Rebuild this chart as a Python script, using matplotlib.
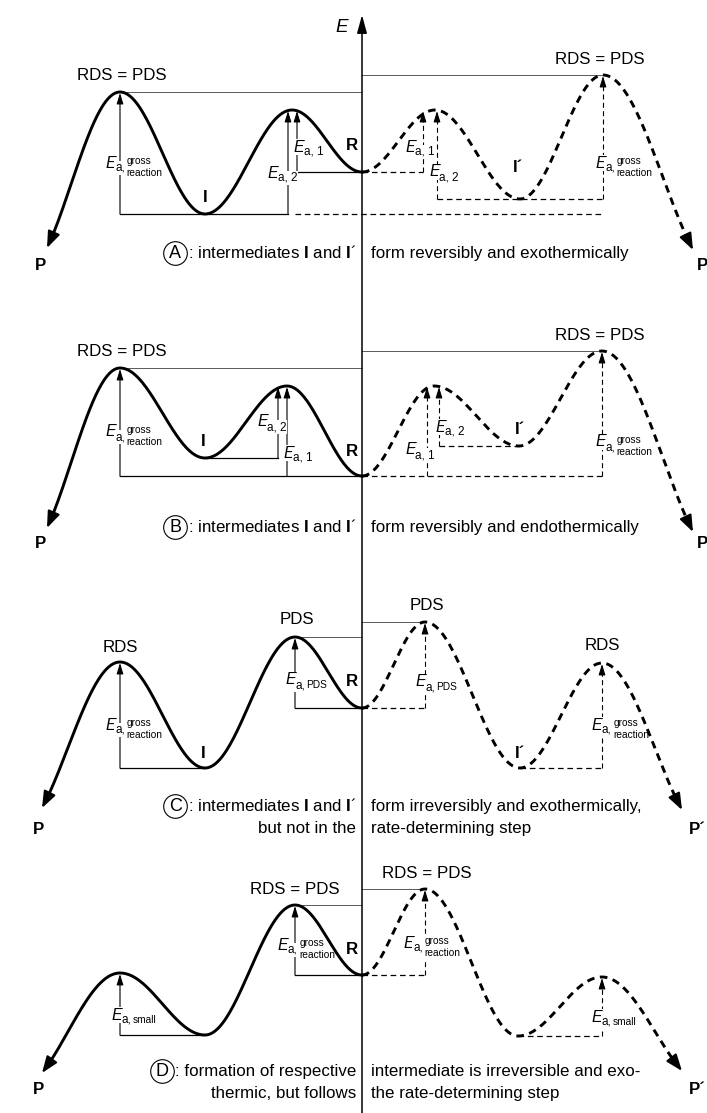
import numpy as np
import matplotlib.pyplot as plt
from matplotlib.patches import FancyArrowPatch

plt.rcParams['font.family'] = ['Liberation Sans', 'DejaVu Sans']
plt.rcParams['mathtext.fontset'] = 'custom'
plt.rcParams['mathtext.rm'] = 'Liberation Sans'
plt.rcParams['mathtext.it'] = 'Liberation Sans:italic'
plt.rcParams['mathtext.bf'] = 'Liberation Sans:bold'

AXIS_X = 362
FS = 12.2

# energy profiles (pixel units, y downwards)
# order: R, first TS, intermediate, second TS, product end
a_left_x = [362, 292, 205, 120, 47]
a_left_y = [172, 110, 214, 92, 248]
a_right_x = [362, 435, 520, 603, 693]
a_right_y = [172, 110, 199, 75, 250]

b_left_x = [362, 287, 205, 120, 47]
b_left_y = [476, 386, 458, 368, 528]
b_right_x = [362, 434, 519, 602, 693]
b_right_y = [476, 386, 446, 351, 532]

c_left_x = [362, 295, 205, 120, 42]
c_left_y = [708, 637, 768, 662, 808]
c_right_x = [362, 425, 520, 602, 682]
c_right_y = [708, 622, 768, 663, 810]

d_left_x = [362, 295, 205, 120, 42]
d_left_y = [975, 905, 1035, 973, 1073]
d_right_x = [362, 425, 518, 602, 682]
d_right_y = [975, 889, 1036, 977, 1071]

captions_left = {
    'A': [r': intermediates $\mathbf{I}$ and $\mathbf{I}$´'],
    'B': [r': intermediates $\mathbf{I}$ and $\mathbf{I}$´'],
    'C': [r': intermediates $\mathbf{I}$ and $\mathbf{I}$´', 'but not in the'],
    'D': [': formation of respective', 'thermic, but follows'],
}
captions_right = {
    'A': ['form reversibly and exothermically'],
    'B': ['form reversibly and endothermically'],
    'C': ['form irreversibly and exothermically,', 'rate-determining step'],
    'D': ['intermediate is irreversible and exo-', 'the rate-determining step'],
}

fig = plt.figure(figsize=(7.07, 11.13), dpi=100)
ax = fig.add_axes([0, 0, 1, 1])
ax.set_xlim(0, 707)
ax.set_ylim(1113, 0)
ax.axis('off')


def profile(xs, ys, n=80):
    px, py = [], []
    for i in range(len(xs) - 1):
        t = np.linspace(0, 1, n)
        if i < len(xs) - 2:
            s = (1 - np.cos(np.pi * t)) / 2
        else:
            k = 0.75
            s = (1 - np.cos(np.pi * k * t)) / (1 - np.cos(np.pi * k))
        px.append(xs[i] + (xs[i + 1] - xs[i]) * t)
        py.append(ys[i] + (ys[i + 1] - ys[i]) * s)
    return np.concatenate(px), np.concatenate(py)


def curve(xs, ys, dashed=False):
    px, py = profile(xs, ys)
    d = np.hypot(px - px[-1], py - py[-1])
    j = np.where(d > 12)[0][-1]
    ls = (0, (2.6, 1.9)) if dashed else '-'
    ax.plot(px[:j + 1], py[:j + 1], color='k', lw=2.1, ls=ls, zorder=4)
    ax.add_patch(FancyArrowPatch((px[j], py[j]), (px[-1], py[-1]),
                                 arrowstyle='-|>,head_length=1.0,head_width=0.38',
                                 mutation_scale=10, lw=1.5, color='k',
                                 shrinkA=0, shrinkB=0, zorder=4))


def varrow(x, y0, y1, dashed=False):
    style = '-|>,head_length=0.65,head_width=0.2'
    if dashed:
        ax.plot([x, x], [y0, y1 + 7], color='k', lw=0.8, ls=(0, (4.5, 3)), zorder=2)
        ax.add_patch(FancyArrowPatch((x, y1 + 10), (x, y1 + 1), arrowstyle=style,
                                     mutation_scale=10, lw=0.8, color='k',
                                     shrinkA=0, shrinkB=0, zorder=2))
    else:
        ax.add_patch(FancyArrowPatch((x, y0), (x, y1 + 1), arrowstyle=style,
                                     mutation_scale=10, lw=0.8, color='k',
                                     shrinkA=0, shrinkB=0, zorder=2))


def hline(x0, x1, y, dashed=False):
    ls = (0, (4.5, 3)) if dashed else '-'
    ax.plot([x0, x1], [y, y], color='k', lw=0.9, ls=ls, zorder=2)


def thin(x0, x1, y):
    ax.plot([x0, x1], [y, y], color='0.35', lw=0.7, zorder=1)


def ea(x, y, sub):
    box = dict(fc='white', ec='none', pad=0.4)
    ax.text(x, y, 'E', fontsize=11.5, style='italic', ha='left', va='center',
            bbox=box, zorder=3)
    if sub == 'gross':
        ax.text(x + 10, y + 5, 'a,', fontsize=8.5, ha='left', va='center', bbox=box, zorder=3)
        ax.text(x + 22, y - 2, 'gross', fontsize=7.3, ha='left', va='center', bbox=box, zorder=3)
        ax.text(x + 21, y + 10, 'reaction', fontsize=7.3, ha='left', va='center', bbox=box, zorder=3)
    elif sub in ('1', '2'):
        ax.text(x + 10, y + 5, 'a, ' + sub, fontsize=8.5, ha='left', va='center', bbox=box, zorder=3)
    else:
        ax.text(x + 10, y + 5, 'a,', fontsize=8.5, ha='left', va='center', bbox=box, zorder=3)
        ax.text(x + 21, y + 5, sub, fontsize=7.3, ha='left', va='center', bbox=box, zorder=3)


def label(x, y, s):
    ax.text(x, y, s, fontsize=FS, ha='center', va='center', zorder=5)


def bold(x, y, s):
    ax.text(x, y, s, fontsize=FS, fontweight='bold', ha='center', va='center', zorder=5)


def caption(y, letter):
    renderer = fig.canvas.get_renderer()
    first = None
    for k, (lt, rt) in enumerate(zip(captions_left[letter], captions_right[letter])):
        yy = y + 22 * k + 5
        t = ax.text(356, yy, lt, fontsize=FS, ha='right', va='baseline')
        ax.text(371, yy, rt, fontsize=FS, ha='left', va='baseline')
        if first is None:
            first = t
    bb = first.get_window_extent(renderer).transformed(ax.transData.inverted())
    cx = min(bb.x0, bb.x1) - 12.5
    ax.plot(cx, y, 'o', ms=17, mfc='none', mec='k', mew=0.8)
    ax.text(cx, y + 0.5, letter, fontsize=13, ha='center', va='center')


# energy axis
ax.add_patch(FancyArrowPatch((AXIS_X, 1113), (AXIS_X, 15),
                             arrowstyle='-|>,head_length=1.1,head_width=0.3',
                             mutation_scale=10, lw=1.1, color='k',
                             shrinkA=0, shrinkB=0, zorder=5))
ax.text(342, 28, 'E', fontsize=13.5, style='italic', ha='center', va='center')

# ---- panel A
curve(a_left_x, a_left_y)
curve(a_right_x, a_right_y, dashed=True)
thin(a_left_x[3], AXIS_X, a_left_y[3])
thin(AXIS_X, a_right_x[3], a_right_y[3])
hline(a_left_x[3], 288, a_left_y[2])
hline(295, a_right_x[3], a_left_y[2], dashed=True)
varrow(a_left_x[3], a_left_y[2], a_left_y[3])
varrow(288, a_left_y[2], a_left_y[1])
varrow(297, a_left_y[0], a_left_y[1])
hline(297, AXIS_X, a_left_y[0])
hline(AXIS_X, 423, a_right_y[0], dashed=True)
varrow(423, a_right_y[0], a_right_y[1], dashed=True)
varrow(437, a_right_y[2], a_right_y[1], dashed=True)
hline(437, a_right_x[3], a_right_y[2], dashed=True)
varrow(a_right_x[3], a_right_y[2], a_right_y[3], dashed=True)
label(122, 75, 'RDS = PDS')
label(600, 60, 'RDS = PDS')
bold(205, 197, 'I')
bold(352, 146, 'R')
bold(518, 167, 'I´')
ea(105, 163, 'gross')
ea(294, 147, '1')
ea(268, 173, '2')
ea(405, 147, '1')
ea(429, 172, '2')
ea(595, 163, 'gross')
bold(40, 265, 'P')
bold(703, 265, 'P')
caption(253, 'A')

# ---- panel B
curve(b_left_x, b_left_y)
curve(b_right_x, b_right_y, dashed=True)
thin(b_left_x[3], AXIS_X, b_left_y[3])
thin(AXIS_X, b_right_x[3], b_right_y[3])
hline(b_left_x[3], AXIS_X, b_left_y[0])
hline(AXIS_X, b_right_x[3], b_right_y[0], dashed=True)
varrow(b_left_x[3], b_left_y[0], b_left_y[3])
hline(b_left_x[2], 278, b_left_y[2])
varrow(278, b_left_y[2], b_left_y[1])
varrow(287, b_left_y[0], b_left_y[1])
varrow(427, b_right_y[0], b_right_y[1], dashed=True)
varrow(439, b_right_y[2], b_right_y[1], dashed=True)
hline(439, b_right_x[2], b_right_y[2], dashed=True)
varrow(b_right_x[3], b_right_y[0], b_right_y[3], dashed=True)
label(122, 352, 'RDS = PDS')
label(600, 335, 'RDS = PDS')
bold(203, 442, 'I')
bold(352, 452, 'R')
bold(520, 430, 'I´')
ea(105, 432, 'gross')
ea(257, 422, '2')
ea(283, 453, '1')
ea(435, 427, '2')
ea(405, 450, '1')
ea(595, 442, 'gross')
bold(40, 543, 'P')
bold(703, 543, 'P')
caption(527, 'B')

# ---- panel C
curve(c_left_x, c_left_y)
curve(c_right_x, c_right_y, dashed=True)
thin(c_left_x[1], AXIS_X, c_left_y[1])
thin(AXIS_X, c_right_x[1], c_right_y[1])
hline(c_left_x[3], c_left_x[2], c_left_y[2])
varrow(c_left_x[3], c_left_y[2], c_left_y[3])
hline(c_left_x[1], AXIS_X, c_left_y[0])
varrow(c_left_x[1], c_left_y[0], c_left_y[1])
hline(AXIS_X, c_right_x[1], c_right_y[0], dashed=True)
varrow(c_right_x[1], c_right_y[0], c_right_y[1], dashed=True)
hline(c_right_x[2], c_right_x[3], c_right_y[2], dashed=True)
varrow(c_right_x[3], c_right_y[2], c_right_y[3], dashed=True)
label(120, 647, 'RDS')
label(297, 620, 'PDS')
label(427, 605, 'PDS')
label(602, 646, 'RDS')
bold(203, 753, 'I')
bold(352, 682, 'R')
bold(520, 753, 'I´')
ea(105, 725, 'gross')
ea(285, 680, 'PDS')
ea(415, 682, 'PDS')
ea(592, 725, 'gross')
bold(38, 830, 'P')
bold(697, 830, 'P´')
caption(806, 'C')

# ---- panel D
curve(d_left_x, d_left_y)
curve(d_right_x, d_right_y, dashed=True)
thin(d_left_x[1], AXIS_X, d_left_y[1])
thin(AXIS_X, d_right_x[1], d_right_y[1])
hline(d_left_x[3], d_left_x[2], d_left_y[2])
varrow(d_left_x[3], d_left_y[2], d_left_y[3])
hline(d_left_x[1], AXIS_X, d_left_y[0])
varrow(d_left_x[1], d_left_y[0], d_left_y[1])
hline(AXIS_X, d_right_x[1], d_right_y[0], dashed=True)
varrow(d_right_x[1], d_right_y[0], d_right_y[1], dashed=True)
hline(d_right_x[2], d_right_x[3], d_right_y[2], dashed=True)
varrow(d_right_x[3], d_right_y[2], d_right_y[3], dashed=True)
label(295, 889, 'RDS = PDS')
label(427, 873, 'RDS = PDS')
bold(352, 950, 'R')
ea(112, 1015, 'small')
ea(278, 945, 'gross')
ea(403, 943, 'gross')
ea(592, 1017, 'small')
bold(38, 1090, 'P')
bold(697, 1090, 'P´')
caption(1071, 'D')

fig.savefig('out.png', dpi=100)
